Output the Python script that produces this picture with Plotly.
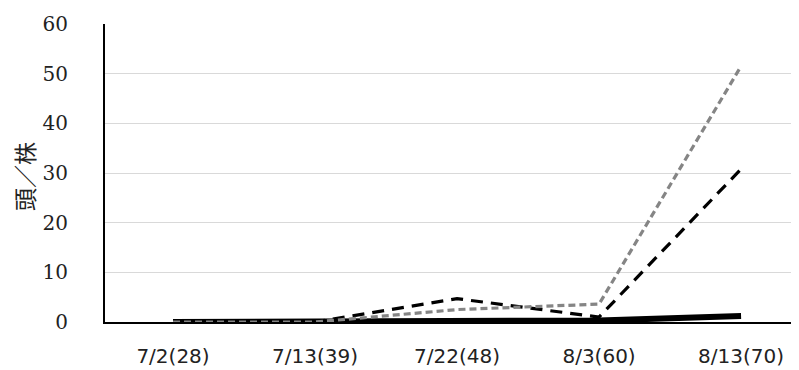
import plotly.graph_objects as go

categories = ["7/2(28)", "7/13(39)", "7/22(48)", "8/3(60)", "8/13(70)"]
series_gray_dot = [0, 0, 2.5, 3.6, 51.5]
series_black_dash = [0, 0, 4.7, 1.0, 30.8]
series_black_solid = [0, 0, 0.1, 0.3, 1.2]
y_ticks = [0, 10, 20, 30, 40, 50, 60]
y_title = "頭／株"

fig = go.Figure()
fig.add_trace(go.Scatter(x=categories, y=series_black_solid, mode="lines",
                         line=dict(color="black", width=6), showlegend=False))
fig.add_trace(go.Scatter(x=categories, y=series_black_dash, mode="lines",
                         line=dict(color="black", width=3.2, dash="12px,8px"), showlegend=False))
fig.add_trace(go.Scatter(x=categories, y=series_gray_dot, mode="lines",
                         line=dict(color="#858585", width=3.2, dash="7px,4px"), showlegend=False))

# page has an 8px body margin
OFF = 8
W, H = 799 - OFF, 370 - OFF
L, T = 105 - OFF, 24 - OFF
B = H - (322 - OFF)
R = 0

fig.update_layout(
    width=W, height=H,
    margin=dict(l=L, r=R, t=T, b=B),
    paper_bgcolor="white", plot_bgcolor="white",
    xaxis=dict(
        type="category", range=[-0.479, 4.408],
        showgrid=False, showline=True, linecolor="black", linewidth=2,
        ticks="", tickfont=dict(family="DejaVu Sans, sans-serif", size=20, color="#222"),
        ticklabelstandoff=15, zeroline=False,
    ),
    yaxis=dict(
        range=[0, 60], tickvals=y_ticks,
        showgrid=True, gridcolor="#d9d9d9", gridwidth=1,
        showline=True, linecolor="black", linewidth=2,
        ticks="", tickfont=dict(family="DejaVu Serif, serif", size=20, color="#222"),
        ticklabelstandoff=31, zeroline=False,
    ),
    annotations=[dict(
        text=y_title, textangle=-90, xref="paper", yref="paper",
        x=-(L - (24 - OFF)) / (W - L - R),
        y=1 - ((177 - OFF) - T) / (H - T - B),
        xanchor="center", yanchor="middle",
        showarrow=False, font=dict(family="Noto Sans CJK JP", size=23, color="#222"),
    )],
)

fig.write_html("out.html")
